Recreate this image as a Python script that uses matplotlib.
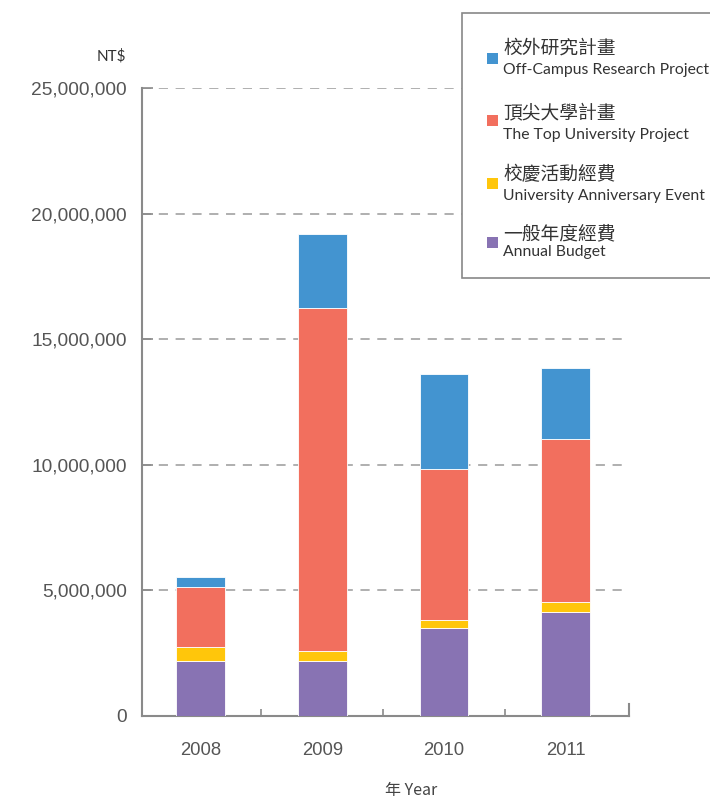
import matplotlib.pyplot as plt
import numpy as np
from matplotlib.patches import Rectangle
from matplotlib.ticker import FuncFormatter

years = ["2008", "2009", "2010", "2011"]

# stacked from bottom to top, NT$
annual_budget = [2190000, 2190000, 3500000, 4140000]
anniversary = [540000, 400000, 320000, 380000]
top_university = [2400000, 13660000, 6020000, 6490000]
off_campus = [390000, 2940000, 3780000, 2860000]

series_zh = ["一般年度經費", "校慶活動經費", "頂尖大學計畫", "校外研究計畫"]
series_en = ["Annual Budget", "University Anniversary Event",
             "The Top University Project", "Off-Campus Research Project"]
colors = ["#8873B3", "#FFC60B", "#F26F5E", "#4394D0"]

yticks = [0, 5000000, 10000000, 15000000, 20000000, 25000000]

fig = plt.figure(figsize=(7.1, 7.99), dpi=100)
ax = fig.add_axes([142 / 710, 1 - 716 / 799, 487 / 710, 628 / 799])

x = np.arange(len(years))
bottom = np.zeros(len(years))
for vals, c in zip([annual_budget, anniversary, top_university, off_campus], colors):
    ax.bar(x, vals, width=0.4, bottom=bottom, color=c,
           edgecolor="white", linewidth=0.6, zorder=3)
    bottom += np.array(vals)

ax.set_xlim(-0.48, 3.52)
ax.set_ylim(0, 25000000)
ax.set_yticks(yticks)
ax.yaxis.set_major_formatter(FuncFormatter(lambda v, p: "0" if v == 0 else f"{int(v):,}"))
ax.set_xticks(x)
ax.set_xticklabels(years)
ax.set_xticks([0.5, 1.5, 2.5], minor=True)

grey_txt = "#555555"
for lbl in ax.get_yticklabels():
    lbl.set_fontfamily("Liberation Sans")
    lbl.set_fontsize(13.8)
    lbl.set_color(grey_txt)
for lbl in ax.get_xticklabels():
    lbl.set_fontfamily("Liberation Sans")
    lbl.set_fontsize(13.3)
    lbl.set_color(grey_txt)

ax.tick_params(axis="y", direction="in", length=8, width=1.2, color="#8a8a8a", pad=11)
ax.tick_params(axis="x", which="major", length=0, pad=19)
ax.tick_params(axis="x", which="minor", direction="in", length=5, width=1.2, color="#8a8a8a")

for s in ["top", "right"]:
    ax.spines[s].set_visible(False)
for s in ["left", "bottom"]:
    ax.spines[s].set_color("#8a8a8a")
    ax.spines[s].set_linewidth(1.5)

# closing tick at the right end of the x axis
ax.axvline(ax.get_xlim()[1], ymin=0, ymax=12 / 628, color="#8a8a8a", lw=1.5, clip_on=False)

for v in yticks[1:]:
    ax.axhline(v, color="#9a9a9a", lw=1.1, ls=(0, (6, 5)), zorder=1)

fig.text(126 / 710, 1 - 56 / 799, "NT$", ha="right", va="center",
         fontsize=11, color="#333333", family="Lato")
fig.text(411 / 710, 1 - 790 / 799, "年 Year", ha="center", va="center",
         fontsize=11.5, color="#444444", family=["Noto Sans CJK TC", "DejaVu Sans"])

# legend box, runs past the right edge
fig.patches.append(Rectangle((462 / 710, 1 - 278 / 799), 260 / 710, 265 / 799,
                             transform=fig.transFigure, facecolor="white",
                             edgecolor="#888888", lw=1.2, zorder=5))
rows = [(58, 48, 70), (120, 113, 135), (183, 175, 196), (242, 234, 252)]
for i, (yb, yz, ye) in zip([3, 2, 1, 0], rows):
    fig.patches.append(Rectangle((487 / 710, 1 - (yb + 6) / 799), 11 / 710, 11 / 799,
                                 transform=fig.transFigure, facecolor=colors[i],
                                 edgecolor="none", zorder=6))
    fig.text(503 / 710, 1 - yz / 799, series_zh[i], ha="left", va="center",
             fontsize=13.5, color="#333333", family="Noto Sans CJK TC", zorder=7)
    fig.text(503 / 710, 1 - ye / 799, series_en[i], ha="left", va="center",
             fontsize=11.3, color="#333333", family="Lato", zorder=7)

fig.savefig("out.png", dpi=100)
